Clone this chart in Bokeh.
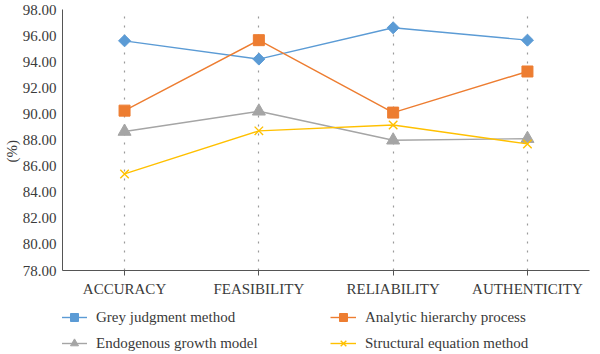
import math
from bokeh.plotting import figure
from bokeh.layouts import column
from bokeh.models import Range1d, FixedTicker, Legend, LegendItem
from bokeh.embed import file_html
from bokeh.resources import INLINE

categories = ["ACCURACY", "FEASIBILITY", "RELIABILITY", "AUTHENTICITY"]
grey_judgment = [95.6, 94.2, 96.6, 95.65]
analytic_hierarchy = [90.25, 95.65, 90.1, 93.25]
endogenous_growth = [88.65, 90.2, 87.98, 88.1]
structural_equation = [85.4, 88.7, 89.15, 87.7]
y_ticks = [78, 80, 82, 84, 86, 88, 90, 92, 94, 96, 98]

FONT = "Liberation Serif"
TXT = "#3a3a3a"

xs = list(range(len(categories)))

p = figure(frame_width=527, frame_height=261, output_backend="svg", toolbar_location=None,
           x_range=Range1d(-0.462, len(categories) - 1 + 0.462),
           y_range=Range1d(78, 98),
           min_border_left=10, min_border_right=10, min_border_top=9,
           min_border_bottom=30)
p.outline_line_color = None

# axes
p.xaxis.ticker = FixedTicker(ticks=xs)
p.xaxis.major_label_overrides = {i: c for i, c in enumerate(categories)}
p.xaxis.major_label_text_font = FONT
p.xaxis.major_label_text_font_size = "15px"
p.xaxis.major_label_text_color = TXT
p.xaxis.major_tick_out = 5
p.xaxis.major_tick_in = 0
p.xaxis.minor_tick_line_color = None
p.xaxis.major_label_standoff = 5
p.xaxis.axis_line_color = "#555555"
p.xaxis.major_tick_line_color = "#555555"

p.yaxis.ticker = FixedTicker(ticks=y_ticks)
p.yaxis.major_label_overrides = {v: f"{v:.2f}" for v in y_ticks}
p.yaxis.major_label_text_font = FONT
p.yaxis.major_label_text_font_size = "15px"
p.yaxis.major_label_text_color = TXT
p.yaxis.major_tick_line_color = None
p.yaxis.minor_tick_line_color = None
p.yaxis.major_tick_out = 0
p.yaxis.major_label_standoff = 6
p.yaxis.axis_line_color = "#555555"
p.yaxis.axis_label = "(%)" + "\u00a0" * 6
p.yaxis.axis_label_text_font = FONT
p.yaxis.axis_label_text_font_size = "15px"
p.yaxis.axis_label_text_font_style = "normal"
p.yaxis.axis_label_text_color = TXT
p.yaxis.axis_label_standoff = 0

p.ygrid.grid_line_color = None
p.xgrid.grid_line_color = "#9a9a9a"
p.xgrid.grid_line_dash = "2 7"
p.xgrid.grid_line_width = 1.2

series = [
    ("Grey judgment method", grey_judgment, "#5B9BD5", "diamond"),
    ("Analytic hierarchy process", analytic_hierarchy, "#ED7D31", "square"),
    ("Endogenous growth model", endogenous_growth, "#A5A5A5", "triangle"),
    ("Structural equation method", structural_equation, "#FFC000", "x"),
]


def draw(fig, vals, color, marker, scale=1.0):
    lr = fig.line(xs, vals, line_color=color, line_width=1.4)
    if marker == "diamond":
        sr = fig.scatter(xs, vals, marker="square", angle=math.pi / 4, size=8.5 * scale,
                         fill_color=color, line_color=color)
    elif marker == "x":
        sr = fig.scatter(xs, vals, marker="x", size=12 * scale, line_color=color,
                         line_width=1.4)
    elif marker == "triangle":
        sr = fig.scatter(xs, vals, marker="triangle", size=13 * scale,
                         fill_color=color, line_color=color)
    else:
        sr = fig.scatter(xs, vals, marker="square", size=11 * scale,
                         fill_color=color, line_color=color)
    return lr, sr


for label, vals, color, marker in series:
    draw(p, vals, color, marker)

# legend strip below the chart (its own renderers sit outside its visible range)
lf = figure(width=600, height=54, output_backend="svg", toolbar_location=None,
            x_range=Range1d(1000, 1001), y_range=Range1d(1000, 1001),
            x_axis_location=None, y_axis_location=None,
            min_border_left=0, min_border_right=0, min_border_top=0,
            min_border_bottom=0)
lf.outline_line_color = None
lf.xgrid.visible = False
lf.ygrid.visible = False

items = {}
for label, vals, color, marker in series:
    lr, sr = draw(lf, vals, color, marker, scale=0.55)
    items[label] = LegendItem(label=label, renderers=[lr, sr])

order = ["Grey judgment method", "Endogenous growth model",
         "Analytic hierarchy process", "Structural equation method"]
legend = Legend(items=[items[k] for k in order], ncols=2, location=(-1, 1),
                label_text_font=FONT, label_text_font_size="15px",
                label_text_color=TXT, glyph_width=26, glyph_height=20,
                label_height=20, label_width=228, label_standoff=9,
                spacing=6, padding=0, margin=0, border_line_color=None,
                background_fill_alpha=0)
lf.add_layout(legend)

open("out.html", "w").write(file_html(column(p, lf, spacing=0), INLINE))
